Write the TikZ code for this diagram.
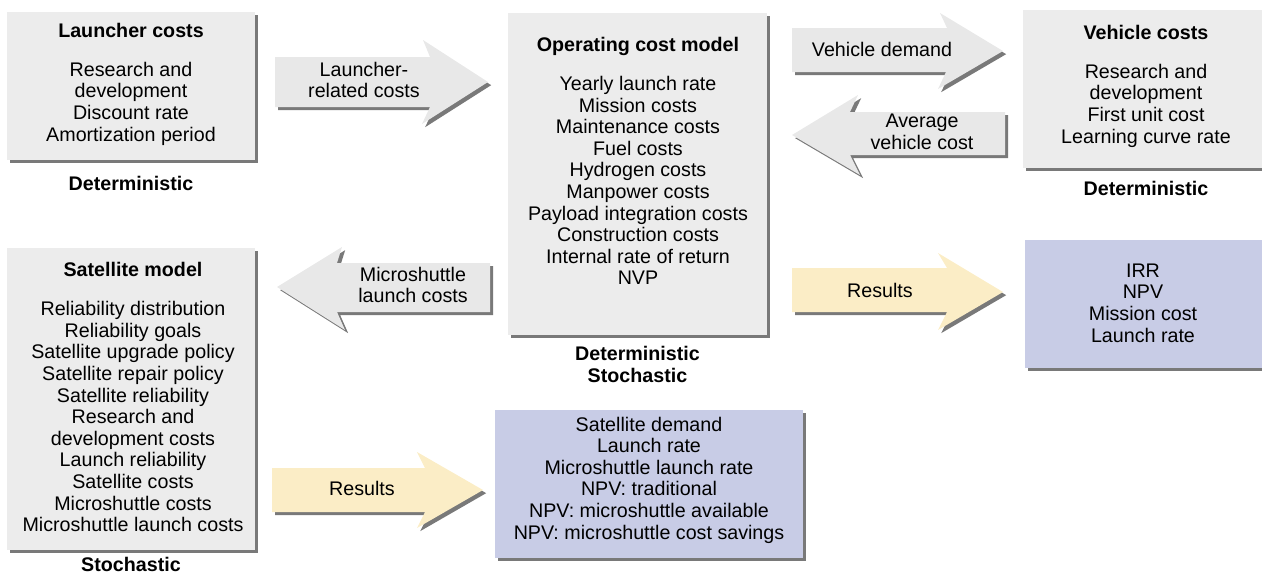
\documentclass[tikz,border=0pt]{standalone}
\usepackage{fontspec}
\setmainfont{Liberation Sans}
\usetikzlibrary{positioning,fit,shadows}
\definecolor{boxgray}{HTML}{ECECEC}
\definecolor{boxblue}{HTML}{C8CCE6}
\definecolor{arrowgray}{HTML}{E8E8E8}
\definecolor{arrowyellow}{HTML}{FBEDC6}
\tikzset{
  txt/.style={align=center, inner sep=0pt, font=\fontsize{11.2}{12.3}\selectfont},
  tag/.style={txt, font=\fontsize{11.2}{12.3}\selectfont\bfseries},
  boxshadow/.style={drop shadow={shadow xshift=1.8pt, shadow yshift=-1.8pt, fill=black!70, opacity=0.75}},
  graybox/.style={fill=boxgray, inner sep=0pt, boxshadow},
  bluebox/.style={fill=boxblue, inner sep=0pt, boxshadow},
  grayarrow/.style={fill=arrowgray, boxshadow},
  yellowarrow/.style={fill=arrowyellow, boxshadow}
}
\begin{document}
\begin{tikzpicture}[x=0.02cm, y=-0.02cm]
  \useasboundingbox (0,0) rectangle (1262,579);

  % Boxes
  \node[graybox, fit={(7,12) (255,160)}] (launcher) {};
  \node[graybox, fit={(508,13) (767,335)}] (operating) {};
  \node[graybox, fit={(1023,10) (1275,168)}] (vehicle) {};
  \node[graybox, fit={(7,248) (255,550)}] (satellite) {};
  \node[bluebox, fit={(1025,240) (1275,368)}] (opresults) {};
  \node[bluebox, fit={(495,410) (803,558)}] (satresults) {};

  % Box texts
  \node[txt] (launchertxt) at (131,84) {\textbf{Launcher costs}\\[10pt]
    Research and\\ development\\ Discount rate\\ Amortization period};
  \node[txt] (operatingtxt) at (638,161) {\textbf{Operating cost model}\\[10pt]
    Yearly launch rate\\ Mission costs\\ Maintenance costs\\ Fuel costs\\
    Hydrogen costs\\ Manpower costs\\ Payload integration costs\\
    Construction costs\\ Internal rate of return\\ NVP};
  \node[txt] (vehicletxt) at (1146,86) {\textbf{Vehicle costs}\\[10pt]
    Research and\\ development\\ First unit cost\\ Learning curve rate};
  \node[txt] (satellitetxt) at (133,397) {\textbf{Satellite model}\\[10pt]
    Reliability distribution\\ Reliability goals\\ Satellite upgrade policy\\
    Satellite repair policy\\ Satellite reliability\\ Research and\\
    development costs\\ Launch reliability\\ Satellite costs\\
    Microshuttle costs\\ Microshuttle launch costs};
  \node[txt] (opresultstxt) at (1143,303) {IRR\\ NPV\\ Mission cost\\ Launch rate};
  \node[txt] (satresultstxt) at (649,480) {Satellite demand\\ Launch rate\\
    Microshuttle launch rate\\ NPV: traditional\\ NPV: microshuttle available\\
    NPV: microshuttle cost savings};

  % Model types
  \node[tag, below=9pt of launcher] (launchertag) {Deterministic};
  \node[tag, below=6pt of operating] (operatingtag) {Deterministic\\ Stochastic};
  \node[tag, below=7pt of vehicle.south -| vehicletxt] (vehicletag) {Deterministic};
  \node[tag, below=4pt of satellite] (satellitetag) {Stochastic};

  % Block arrows
  \path[grayarrow] (275,57) -- (430,57) -- (423,40) -- (488,82)
    -- (422,124) -- (430,107) -- (275,107) -- cycle;
  \path[grayarrow] (792,28) -- (947,28) -- (940,13) -- (1003,51)
    -- (938,89) -- (946,72) -- (792,72) -- cycle;
  \path[grayarrow] (1005,112) -- (850,112) -- (858,95) -- (792,135)
    -- (860,175) -- (850,155) -- (1005,155) -- cycle;
  \path[grayarrow] (490,263) -- (337,263) -- (342,247) -- (277,287)
    -- (345,330) -- (337,312) -- (490,312) -- cycle;
  \path[yellowarrow] (792,268) -- (947,268) -- (938,253) -- (1003,292)
    -- (938,330) -- (947,312) -- (792,312) -- cycle;
  \path[yellowarrow] (272,468) -- (425,468) -- (417,452) -- (483,490)
    -- (417,528) -- (425,512) -- (272,512) -- cycle;

  % Arrow labels
  \node[txt] (launcherlbl) at (364,80) {Launcher-\\ related costs};
  \node[txt] (demandlbl) at (882,49) {Vehicle demand};
  \node[txt] (averagelbl) at (922,132) {Average\\ vehicle cost};
  \node[txt] (microlbl) at (413,285) {Microshuttle\\ launch costs};
  \node[txt] (opreslbl) at (880,290) {Results};
  \node[txt] (satreslbl) at (362,488) {Results};
\end{tikzpicture}
\end{document}
